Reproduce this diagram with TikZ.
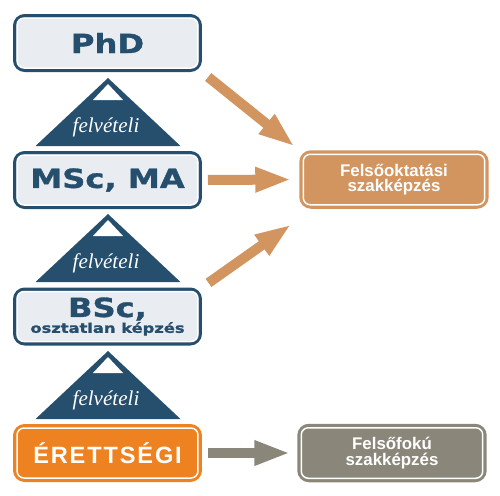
\documentclass[tikz,border=0pt]{standalone}
\usepackage{fontspec}
\usetikzlibrary{arrows.meta}
\newfontfamily\widefont[FakeStretch=1.22,FakeBold=1.2]{DejaVu Sans}
\newfontfamily\boxfont{Liberation Sans}
\newfontfamily\spacedfont[LetterSpace=8]{Liberation Sans}
\newfontfamily\trifont{Liberation Serif}
\definecolor{edublue}{HTML}{264F6E}
\definecolor{edufill}{HTML}{E9EDF1}
\definecolor{eduorange}{HTML}{EF8220}
\definecolor{edutan}{HTML}{D3955F}
\definecolor{edugray}{HTML}{8A877A}
\begin{document}
\begin{tikzpicture}[x=0.02cm,y=-0.02cm,
  level/.style={draw=edublue,fill=edufill,line width=0.07cm,rounded corners=0.2cm,
    minimum width=3.71cm,minimum height=1.09cm,inner sep=0pt,text=edublue,align=center,
    font={\widefont\bfseries\fontsize{15}{9}\selectfont}},
  side/.style={line width=0.07cm,rounded corners=0.2cm,minimum width=3.72cm,minimum height=1.1cm,
    inner sep=0pt,text=white,align=center,font={\boxfont\bfseries\fontsize{9.6}{8.6}\selectfont}},
  flow/.style={line width=0.2cm,-{Triangle[length=0.72cm,width=0.46cm]}}]
\useasboundingbox (0,0) rectangle (500,495);

\node[level] (phd) at (107.5,43) {PhD};
\node[level] (msc) at (107.5,180) {MSc, MA};
\node[level] (bsc) at (107.5,316.5) {BSc,\\{\fontsize{7.6}{9}\selectfont osztatlan képzés}};
\node[level,draw=eduorange,fill=eduorange,text=white,font={\spacedfont\bfseries\fontsize{13.4}{13.4}\selectfont}] (eret) at (107.5,453) {ÉRETTSÉGI};
\node[side,draw=edutan,fill=edutan] (felso) at (394,179.5) {Felsőoktatási\\szakképzés};
\node[side,draw=edugray,fill=edugray] (fok) at (392,453) {Felsőfokú\\szakképzés};

\foreach \n in {phd,msc,bsc,eret,felso,fok}
  \draw[white,line width=0.03cm,rounded corners=0.14cm] ([shift={(0.08cm,0.08cm)}]\n.south west) rectangle ([shift={(-0.08cm,-0.08cm)}]\n.north east);

\foreach \y/\t in {78/adm1,214/adm2,351/adm3} {
  \fill[edublue] (108,\y) -- (180.5,\y+68) -- (35.5,\y+68) -- cycle;
  \fill[white] (108,\y+6) -- (123,\y+22) -- (93,\y+22) -- cycle;
  \node[text=white,font={\trifont\itshape\fontsize{12}{12}\selectfont}] (\t) at (106,\y+49) {felvételi};
}

\draw[flow,edutan,shorten <=0.16cm,shorten >=0.12cm] (phd.south east) -- (felso.north west);
\draw[flow,edutan,shorten <=0.12cm,shorten >=0.16cm] (msc.east) -- (felso.west);
\draw[flow,edutan,shorten <=0.16cm,shorten >=0.2cm] (bsc.north east) -- ([yshift=-0.2cm]felso.south west);
\draw[flow,edugray,shorten <=0.12cm,shorten >=0.14cm] (eret.east) -- (fok.west);
\end{tikzpicture}
\end{document}
